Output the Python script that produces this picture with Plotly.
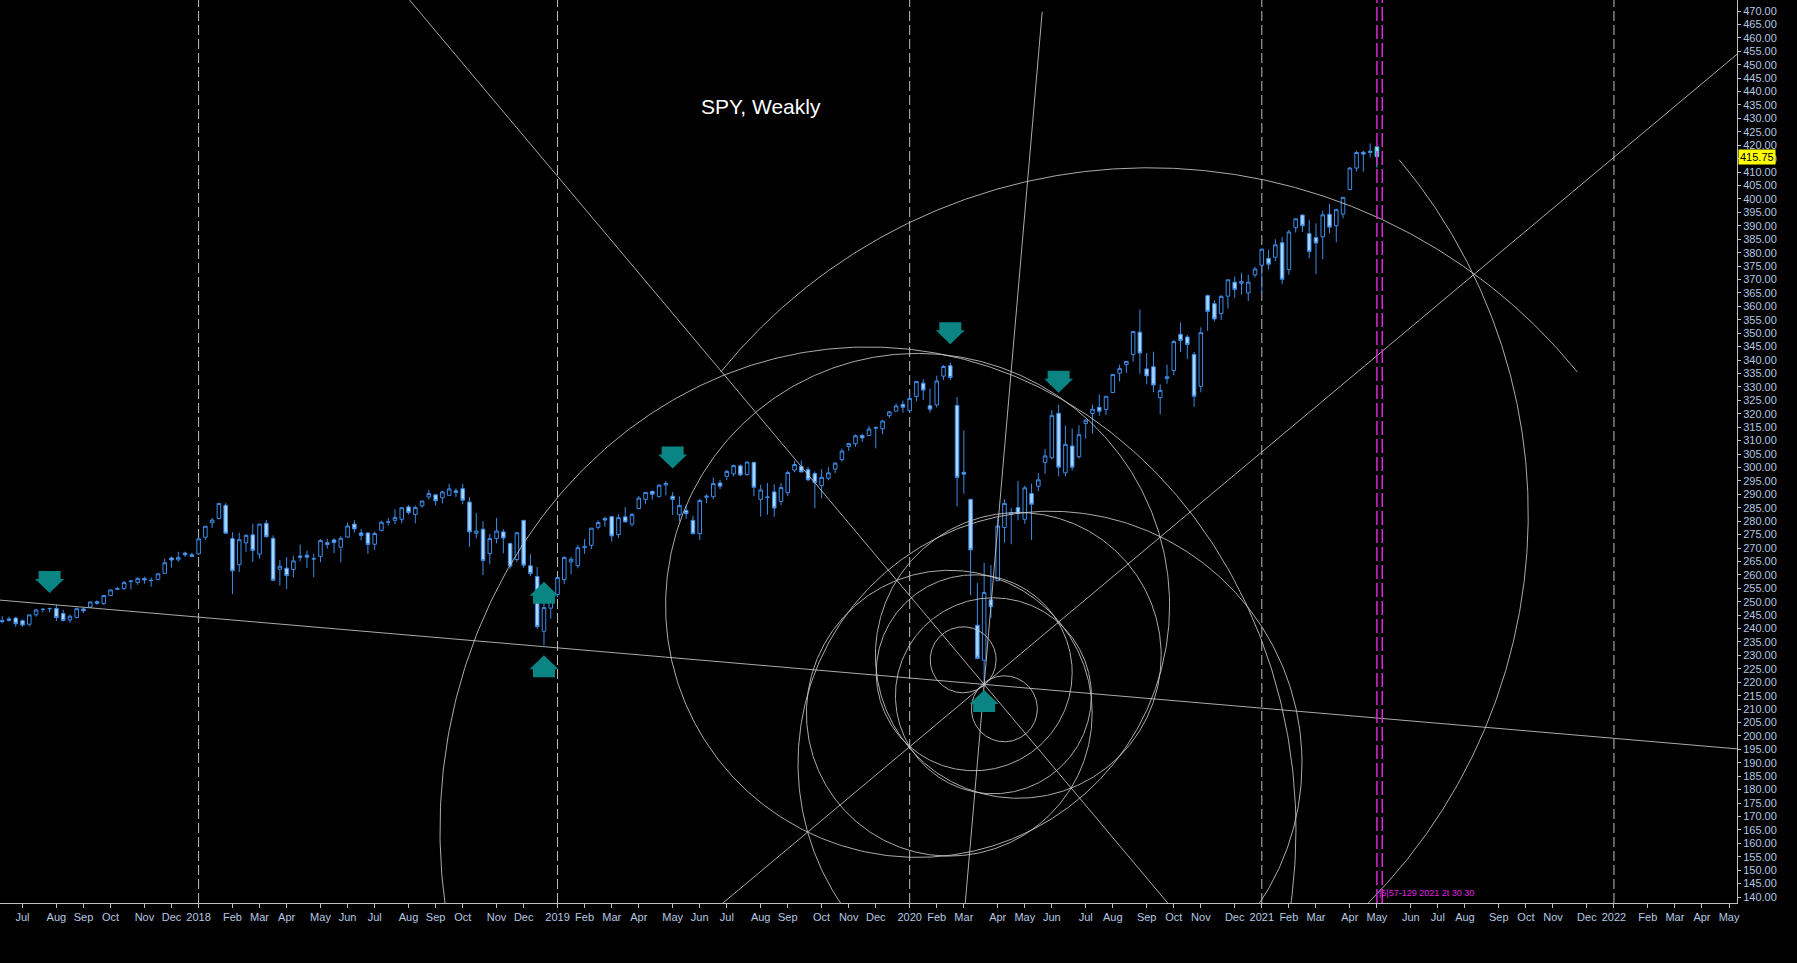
import numpy as np
import pandas as pd
import plotly.graph_objects as go

# ---------------- data ----------------
week_start = "2017-06-12"   # first weekly bar (Monday dated)
opens = [243.0,243.6,243.9,242.9,241.6,245.1,247.2,247.4,247.5,245.6,243.2,244.1,247.3,248.0,250.0,249.3,252.3,254.6,254.9,257.5,257.2,258.6,258.0,258.3,260.6,266.3,265.6,268.1,267.5,
         267.8,274.0,279.4,281.0,285.9,273.5,263.8,271.9,274.9,267.7,279.2,273.6,262.1,262.5,262.0,267.0,267.3,265.9,266.9,272.0,273.0,270.3,274.1,278.9,275.6,275.6,271.4,276.6,279.6,280.3,280.7,285.3,282.5,285.7,289.0,289.8,288.7,289.6,291.3,292.1,287.1,275.5,277.0,267.9,273.5,276.0,271.7,265.7,280.3,263.4,259.4,239.0,247.6,
         252.7,258.2,264.8,263.4,270.1,271.0,277.7,281.0,281.7,275.0,281.6,278.9,284.7,288.1,291.1,289.2,293.5,289.3,282.4,284.0,280.3,275.3,288.9,289.1,294.2,296.7,297.6,300.6,297.4,301.9,288.1,289.0,290.9,287.3,290.6,299.0,300.4,299.2,297.7,293.3,296.0,299.4,302.9,307.8,308.8,311.9,311.9,314.6,314.4,319.3,321.0,323.5,
         321.1,326.4,331.4,323.0,323.3,334.0,337.9,323.1,298.2,288.1,241.2,228.2,250.7,257.8,277.6,282.6,285.1,280.7,290.3,293.0,301.9,303.6,320.2,298.0,308.0,304.0,316.4,320.1,322.4,321.6,327.9,335.1,338.3,342.1,350.4,336.7,337.5,326.0,333.1,336.1,349.6,348.6,342.1,330.2,364.0,361.0,357.3,363.8,369.0,368.6,365.0,371.7,
         375.3,377.9,378.3,383.7,373.7,389.3,394.0,387.1,385.6,385.9,394.3,390.0,394.4,403.5,411.5,417.4,417.8]
highs = [244.6,244.4,244.4,243.4,245.1,247.3,247.7,247.8,248.9,247.0,245.2,247.8,247.7,250.1,250.5,252.3,254.6,255.5,257.8,258.0,259.0,259.3,259.0,260.5,266.0,266.8,268.6,268.6,268.2,
         274.0,278.1,281.2,286.6,286.7,275.9,275.7,275.2,279.1,278.9,280.4,274.7,265.5,266.6,267.2,271.3,269.0,267.9,273.3,273.4,273.6,274.4,279.5,280.4,277.0,275.9,276.1,280.2,281.2,284.4,285.0,286.0,285.8,287.3,291.7,290.0,291.3,293.9,292.2,293.9,288.9,283.0,280.0,275.2,281.2,277.0,272.0,276.0,280.4,267.7,262.9,250.5,253.1,
         259.2,266.9,266.7,271.2,273.4,277.4,280.3,281.7,281.9,282.6,285.2,283.0,289.4,290.5,291.4,293.7,294.9,290.8,289.2,286.1,282.0,288.3,290.0,296.3,295.4,299.2,301.1,301.1,302.2,302.0,293.6,294.2,293.7,294.2,298.8,302.5,302.6,300.2,298.5,299.4,300.2,302.0,307.0,309.0,312.3,312.6,315.5,315.3,317.7,321.0,323.8,324.9,
         327.5,332.0,332.9,329.4,334.2,338.1,339.1,326.2,313.8,288.4,256.9,264.5,263.6,281.2,288.2,284.9,294.9,293.2,294.0,297.9,306.8,321.3,323.4,315.6,314.5,315.7,317.9,323.4,327.2,326.6,334.9,338.3,339.6,350.7,358.8,342.6,343.1,330.9,338.3,347.4,354.0,349.3,343.0,352.2,364.4,362.3,364.2,369.9,371.1,372.5,371.8,374.7,
         381.5,381.1,385.0,385.9,388.5,392.9,394.2,392.2,390.9,395.7,398.1,396.4,400.7,411.9,417.9,417.9,420.7]
lows = [241.9,242.6,240.6,240.7,240.8,244.4,246.0,246.0,242.8,242.7,242.2,243.8,245.8,247.9,248.9,248.7,252.2,254.3,254.4,254.6,256.3,256.7,255.6,258.0,260.4,262.7,264.9,266.6,266.6,
        267.4,273.0,277.5,280.6,275.4,252.9,261.1,268.6,264.8,266.1,273.9,258.6,256.0,254.7,259.1,265.0,262.5,259.1,264.7,269.8,268.1,264.6,273.8,275.8,272.8,267.8,269.3,276.1,278.4,278.9,279.2,282.5,279.2,285.0,288.0,285.8,286.6,289.6,288.9,286.3,270.4,273.6,259.9,263.9,271.7,268.0,262.3,264.8,262.6,259.5,239.9,233.8,243.7,
        251.7,256.5,260.2,262.4,267.8,269.6,276.9,277.9,272.4,273.7,279.7,278.0,284.4,286.4,288.0,288.8,289.6,282.3,279.9,280.9,275.3,273.0,286.7,288.2,291.9,295.3,296.7,296.8,296.9,289.3,281.7,282.4,281.6,286.0,289.3,298.2,298.6,294.9,284.8,288.5,295.2,297.9,302.2,306.2,307.7,309.5,311.9,307.1,312.3,318.4,320.9,320.3,
        320.4,324.6,325.1,320.4,322.3,332.6,332.6,285.5,290.2,252.4,229.9,218.3,243.9,257.8,272.0,271.4,280.3,279.0,273.0,291.1,297.7,303.0,296.7,296.7,298.9,303.3,310.7,312.6,319.2,319.6,327.7,332.0,335.2,339.4,334.9,331.0,328.0,319.8,331.2,334.3,343.1,340.4,322.6,328.0,350.9,354.4,354.9,359.2,363.2,364.4,362.0,370.8,
        364.8,373.7,376.8,368.3,371.8,387.5,387.7,377.9,372.0,377.6,387.2,383.9,392.8,403.4,410.2,410.2,415.5]
closes = [242.6,243.1,241.8,241.3,245.1,246.9,247.1,247.4,244.1,243.0,244.6,247.4,246.6,249.9,249.4,252.3,254.4,254.9,257.1,257.7,258.7,258.1,257.9,260.4,264.5,265.5,266.5,267.5,266.9,
          273.4,278.1,280.4,286.6,275.5,261.5,273.1,274.7,269.1,278.9,274.2,258.0,263.2,259.7,265.2,266.6,266.6,266.0,272.8,271.3,272.0,273.6,278.2,277.1,274.7,271.3,275.4,279.6,279.7,281.4,285.0,283.2,285.1,287.5,290.3,287.6,290.9,292.0,290.7,287.8,276.0,276.3,265.3,273.5,276.3,273.7,263.3,275.7,263.6,260.5,240.7,247.8,252.4,
          259.0,266.5,265.8,270.1,270.5,277.4,279.5,280.4,274.5,281.3,279.7,282.5,288.6,290.7,290.0,293.4,294.0,288.1,285.8,282.8,275.3,287.7,289.3,294.0,293.0,298.5,300.7,297.2,302.0,292.6,291.6,288.9,284.9,292.5,298.1,301.1,298.3,295.4,294.4,296.3,298.0,301.6,306.1,308.9,311.8,311.0,314.3,314.9,317.3,320.7,322.9,322.4,
          325.7,332.0,328.8,321.7,332.2,337.6,333.5,296.3,297.5,269.3,228.8,253.4,248.2,278.2,286.6,283.0,282.8,292.4,286.3,295.4,304.3,319.3,300.1,308.6,300.1,312.2,317.6,321.7,320.9,326.5,334.6,336.8,339.5,350.6,342.6,334.1,330.7,328.7,333.8,346.9,347.3,345.8,326.5,350.2,358.1,355.3,363.7,369.9,366.3,369.2,369.0,373.9,
          381.3,375.7,382.9,370.1,387.7,392.6,390.0,380.4,383.6,394.1,389.5,396.0,400.6,411.5,417.3,416.7,417.3]
# current (unfinished) bar
last_bar = {"date": "2021-05-03", "open": 419.4, "high": 419.6, "low": 411.7, "close": 415.75}

tick_dates = ["2017-07-03","2017-08-07","2017-09-04","2017-10-02","2017-11-06","2017-12-04",
              "2018-01-01","2018-02-05","2018-03-05","2018-04-02","2018-05-07","2018-06-04","2018-07-02","2018-08-06","2018-09-03","2018-10-01","2018-11-05","2018-12-03",
              "2019-01-07","2019-02-04","2019-03-04","2019-04-01","2019-05-06","2019-06-03","2019-07-01","2019-08-05","2019-09-02","2019-10-07","2019-11-04","2019-12-02",
              "2020-01-06","2020-02-03","2020-03-02","2020-04-06","2020-05-04","2020-06-01","2020-07-06","2020-08-03","2020-09-07","2020-10-05","2020-11-02","2020-12-07",
              "2021-01-04","2021-02-01","2021-03-01","2021-04-05","2021-05-03","2021-06-07","2021-07-05","2021-08-02","2021-09-06","2021-10-04","2021-11-01","2021-12-06",
              "2022-01-03","2022-02-07","2022-03-07","2022-04-04","2022-05-02"]
tick_labels = ["Jul","Aug","Sep","Oct","Nov","Dec",
               "2018","Feb","Mar","Apr","May","Jun","Jul","Aug","Sep","Oct","Nov","Dec",
               "2019","Feb","Mar","Apr","May","Jun","Jul","Aug","Sep","Oct","Nov","Dec",
               "2020","Feb","Mar","Apr","May","Jun","Jul","Aug","Sep","Oct","Nov","Dec",
               "2021","Feb","Mar","Apr","May","Jun","Jul","Aug","Sep","Oct","Nov","Dec",
               "2022","Feb","Mar","Apr","May"]
year_separators = ["2018-01-01","2019-01-07","2020-01-06","2021-01-04","2022-01-03"]
vline_dates = ["2021-05-03","2021-05-08 12:00"]
vline_label = "|5|57-129 2021 2t 30 30"

# hand-drawn objects (MetaTrader style)
pivot = ("2020-03-23", 219.2)
# rays through the pivot: slope in $ per week
ray_slopes = [-0.216, -3.004, 2.111]
steep_line = (("2020-03-23", 219.2), ("2020-05-22", 469.7))
# circles / ellipses: center date, center price, x-radius (weeks), aspect (screen ry/rx), start & end angle (deg, screen, clockwise)
arc_dates = ["2020-03-01 07:00","2020-04-12 22:00","2020-03-12 17:00","2020-04-01 14:00","2020-04-27 07:00","2020-02-16 00:00",
             "2020-05-30 02:00","2020-01-14 05:00","2020-09-09 10:00","2020-03-14 22:00","2019-11-23 22:00"]
arc_prices = [228.36, 210.11, 223.52, 214.95, 230.0, 208.47, 189.85, 248.62, 206.3, 282.5, 164.97]
arc_radius = [4.87, 4.87, 14.47, 14.47, 21.1, 21.1, 37.21, 37.21, 81.4, 81.5, 63.2]
arc_aspect = [1, 1, 1, 1, 1, 1, 1, 1, 1, 1, 1.1285]
arc_start = [0, 0, 0, 0, 0, 0, 0, 0, -141, -40, 0]
arc_end = [360, 360, 360, 360, 360, 360, 360, 360, -39, 60, 360]
# signal arrows: date, price of tip, direction
arrow_dates = ["2017-07-31","2018-12-24","2018-12-24","2019-05-06","2020-02-17","2020-06-08","2020-03-23"]
arrow_prices = [253.2, 257.4, 230.1, 299.6, 345.9, 327.8, 217.1]
arrow_dirs = ["down","up","up","down","down","down","up"]
last_price = 415.75

# ---------------- figure ----------------
W, H = 1797, 963
ML, MR, MT, MB = 0, 60, 0, 60
X_RANGE = ["2017-06-09 17:00", "2022-05-10 05:00"]
Y_RANGE = [137.78, 474.1]
plot_w, plot_h = W - ML - MR, H - MT - MB
x0 = pd.Timestamp(X_RANGE[0]); x1 = pd.Timestamp(X_RANGE[1])
px_per_week = plot_w / ((x1 - x0) / pd.Timedelta(days=7))
px_per_dollar = plot_h / (Y_RANGE[1] - Y_RANGE[0])
dollar_per_week = px_per_week / px_per_dollar

dates = pd.date_range(week_start, periods=len(opens), freq="7D")

fig = go.Figure()
GRAY = "rgba(200,200,200,0.85)"

shapes = []
for d in year_separators:
    shapes.append(dict(type="line", xref="x", yref="paper", x0=d, x1=d, y0=0, y1=1,
                       line=dict(color="rgba(210,210,210,0.9)", width=1, dash="10px,4px"), layer="below"))
for d in vline_dates:
    shapes.append(dict(type="line", xref="x", yref="paper", x0=d, x1=d, y0=0, y1=1,
                       line=dict(color="#d42ad4", width=1.5, dash="14px,4px"), layer="above"))

# rays through pivot
pd0 = pd.Timestamp(pivot[0])
for s in ray_slopes:
    xs = [x0, x1]
    ys = [pivot[1] + s * ((t - pd0) / pd.Timedelta(days=7)) for t in xs]
    fig.add_trace(go.Scatter(x=xs, y=ys, mode="lines", line=dict(color=GRAY, width=1), hoverinfo="skip", showlegend=False))
(sa, pa), (sb, pb) = steep_line
ta, tb = pd.Timestamp(sa), pd.Timestamp(sb)
slope = (pb - pa) / ((tb - ta) / pd.Timedelta(days=7))
t_bottom = ta + pd.Timedelta(days=7) * ((Y_RANGE[0] - pa) / slope)
fig.add_trace(go.Scatter(x=[t_bottom, tb], y=[Y_RANGE[0], pb], mode="lines", line=dict(color=GRAY, width=1), hoverinfo="skip", showlegend=False))

# arcs
for d, p, r, asp, a0, a1 in zip(arc_dates, arc_prices, arc_radius, arc_aspect, arc_start, arc_end):
    th = np.radians(np.linspace(a0, a1, 600))
    c = pd.Timestamp(d)
    xs = [c + pd.Timedelta(days=7) * (r * np.cos(t)) for t in th]
    ys = p - r * asp * dollar_per_week * np.sin(th)
    fig.add_trace(go.Scatter(x=xs, y=ys, mode="lines", line=dict(color=GRAY, width=1), hoverinfo="skip", showlegend=False))

# candles
fig.add_trace(go.Candlestick(
    x=dates, open=opens, high=highs, low=lows, close=closes,
    increasing=dict(line=dict(color="#3d8be6", width=1), fillcolor="#000000"),
    decreasing=dict(line=dict(color="#3d8be6", width=1), fillcolor="#a9d6ff"),
    whiskerwidth=0, showlegend=False, hoverinfo="skip"))
fig.add_trace(go.Candlestick(
    x=[last_bar["date"]], open=[last_bar["open"]], high=[last_bar["high"]], low=[last_bar["low"]], close=[last_bar["close"]],
    increasing=dict(line=dict(color="#35c9d6", width=1), fillcolor="#8ee6f7"),
    decreasing=dict(line=dict(color="#35c9d6", width=1), fillcolor="#8ee6f7"),
    whiskerwidth=0, showlegend=False, hoverinfo="skip"))

# arrows
for d, p, dr in zip(arrow_dates, arrow_prices, arrow_dirs):
    sgn = 1 if dr == "down" else -1
    pts = [(0, 0), (14.5, 14), (11, 14), (11, 22), (-11, 22), (-11, 14), (-14.5, 14)]
    path = "M " + " L ".join(f"{x},{sgn*y}" for x, y in pts) + " Z"
    shapes.append(dict(type="path", xref="x", yref="y", xsizemode="pixel", ysizemode="pixel",
                       xanchor=d, yanchor=p, path=path, fillcolor="#0b8484", line=dict(width=0), layer="above"))

fig.update_layout(
    width=W, height=H, margin=dict(l=ML, r=MR, t=MT, b=MB),
    paper_bgcolor="black", plot_bgcolor="black", boxgap=0.25,
    showlegend=False, shapes=shapes,
    xaxis=dict(type="date", range=X_RANGE, rangeslider=dict(visible=False), showgrid=False, zeroline=False,
               tickmode="array", tickvals=tick_dates, ticktext=tick_labels,
               ticks="outside", ticklen=4, tickcolor="#c0c0c0", showline=True, linecolor="#c0c0c0", linewidth=1,
               tickfont=dict(family="Liberation Sans, Arial", size=11, color="#b4c8e0")),
    yaxis=dict(side="right", range=Y_RANGE, showgrid=False, zeroline=False, tick0=0, dtick=5, tickformat=".2f",
               ticks="outside", ticklen=3, tickcolor="#c0c0c0", showline=True, linecolor="#c0c0c0", linewidth=1,
               tickfont=dict(family="Liberation Sans, Arial", size=11, color="#b4c8e0")),
    annotations=[
        dict(text="SPY, Weakly", xref="paper", yref="paper", x=761/1737, y=1-106.6/903, showarrow=False,
             font=dict(family="Liberation Sans, Arial", size=21, color="white"), xanchor="center", yanchor="middle"),
        dict(text=f"{last_price:.2f}", xref="paper", yref="y", x=1.0, y=last_price, xanchor="left", yanchor="middle",
             showarrow=False, bgcolor="#ffff00", font=dict(family="Liberation Sans, Arial", size=11, color="black"), borderpad=1, xshift=1),
        dict(text=vline_label, xref="x", yref="paper", x=vline_dates[0], y=1-893/903, xanchor="left", yanchor="middle",
             showarrow=False, font=dict(family="Liberation Sans, Arial", size=9, color="#e020e0")),
    ],
)

fig.write_html("out.html", config={"displayModeBar": False},
               post_script="document.body.style.margin='0';document.body.style.overflow='hidden';")
